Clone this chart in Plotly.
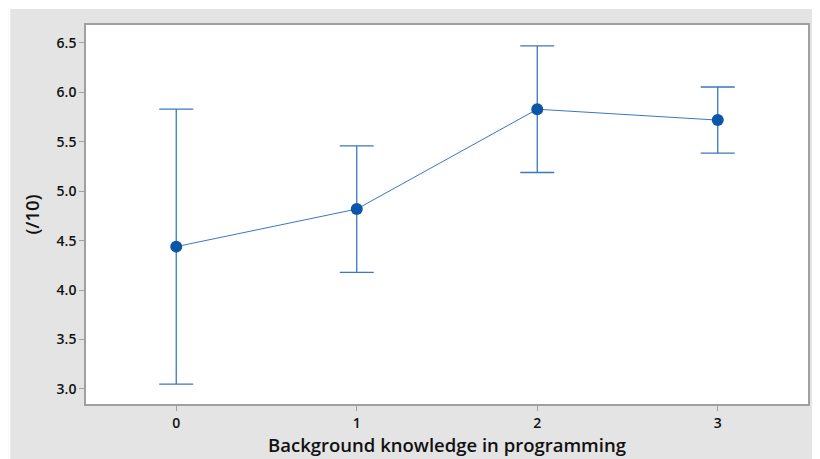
import plotly.graph_objects as go

categories = ["0", "1", "2", "3"]
means = [4.44, 4.82, 5.83, 5.72]
errors = [1.39, 0.64, 0.64, 0.335]
y_ticks = [3.0, 3.5, 4.0, 4.5, 5.0, 5.5, 6.0, 6.5]

# page body adds an 8px margin, so the figure is sized to fit inside it
W, H = 812, 451
ml, mr, mt, mb = 78, 10, 17, 55
pw, ph = W - ml - mr, H - mt - mb

fig = go.Figure()
fig.add_trace(go.Scatter(
    x=[0, 1, 2, 3], y=means,
    mode="lines+markers",
    line=dict(color="#3a78c0", width=1),
    marker=dict(color="#0a56a8", size=12),
    error_y=dict(type="data", array=errors, visible=True,
                 color="#3a78c0", thickness=1.3, width=17),
    showlegend=False,
))

font_fam = "Open Sans, Noto Sans, sans-serif"
fig.update_layout(
    width=W, height=H,
    margin=dict(l=ml, r=mr, t=mt, b=mb),
    paper_bgcolor="#e4e4e4",
    plot_bgcolor="white",
    font=dict(family=font_fam, color="#111111"),
    xaxis=dict(
        range=[-0.5, 3.5], tickvals=[0, 1, 2, 3], ticktext=categories,
        showgrid=False, zeroline=False,
        showline=True, linecolor="#a0a0a0", linewidth=1.5, mirror=True,
        ticks="outside", ticklen=5, tickcolor="#a0a0a0",
        tickfont=dict(size=14, weight=600),
        title=dict(text="Background knowledge in programming",
                   font=dict(size=18.5, weight=600), standoff=1),
    ),
    yaxis=dict(
        range=[2.848, 6.682], tickvals=y_ticks,
        ticktext=[f"{v:.1f}" for v in y_ticks],
        showgrid=False, zeroline=False,
        showline=True, linecolor="#a0a0a0", linewidth=1.5, mirror=True,
        ticks="outside", ticklen=5, tickcolor="#a0a0a0",
        tickfont=dict(size=14, weight=600),
        title=dict(text="(/10)", font=dict(size=18.5, weight=600), standoff=12),
    ),
)

# white outer strips (left and top) outside the grey panel
fig.add_shape(type="rect", xref="paper", yref="paper", layer="below",
              x0=-ml / pw, x1=(2 - ml) / pw, y0=-mb / ph, y1=(H - mb) / ph,
              fillcolor="white", line=dict(width=0))
fig.add_shape(type="rect", xref="paper", yref="paper", layer="below",
              x0=-ml / pw, x1=(W - ml) / pw, y0=(H - mb - 1) / ph, y1=(H - mb) / ph,
              fillcolor="white", line=dict(width=0))

fig.write_html("out.html")
